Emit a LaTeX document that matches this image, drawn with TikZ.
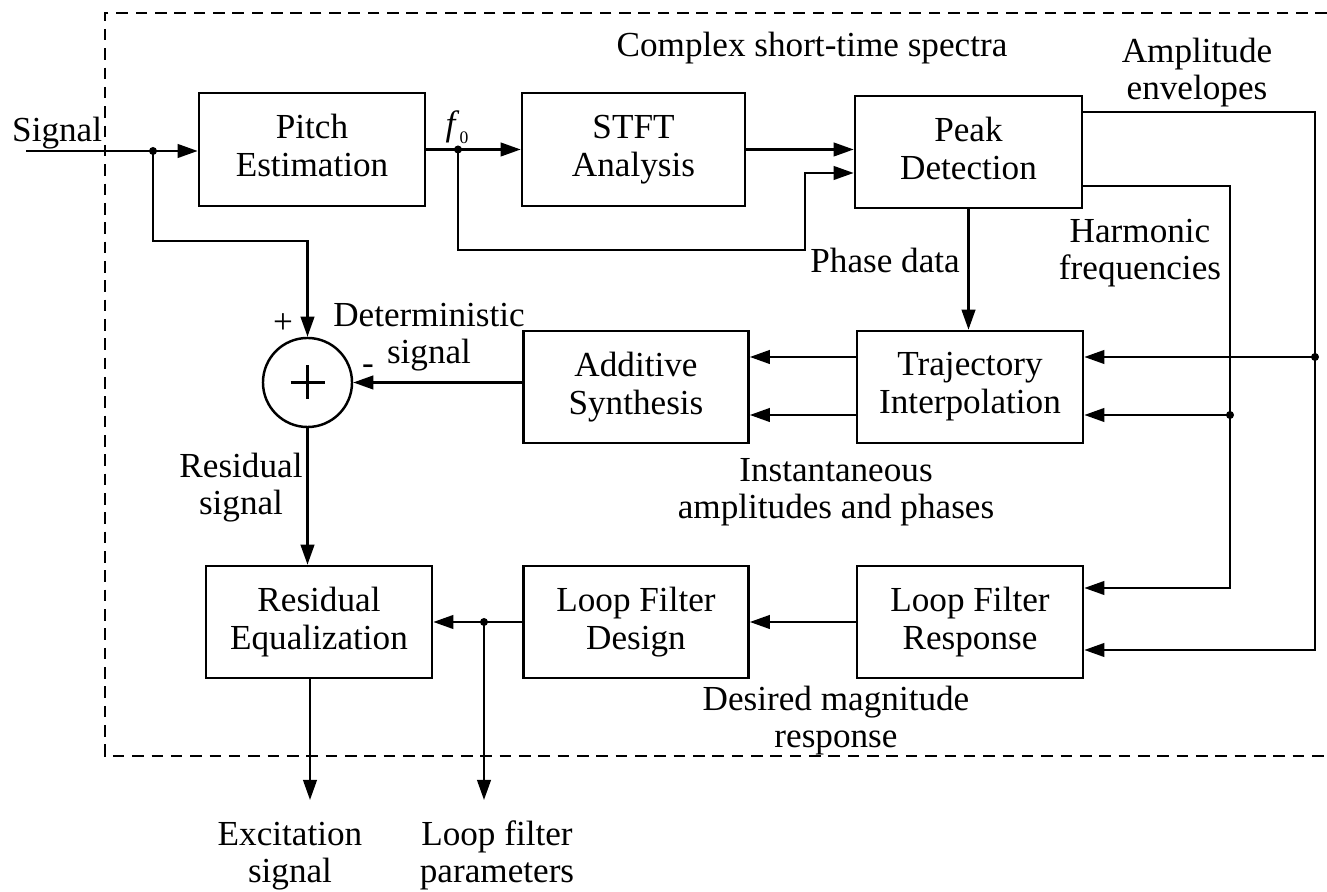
\documentclass[tikz,border=0pt]{standalone}
\usepackage{fontspec}
\setmainfont{Liberation Serif}
\usetikzlibrary{arrows.meta}
\begin{document}
\begin{tikzpicture}[x=0.01cm,y=-0.01cm,line width=0.7pt,
  font=\fontsize{10pt}{10.8pt}\selectfont,
  box/.style={draw,align=center,inner sep=0pt,minimum width=2.25cm,minimum height=1.12cm,
    execute at end node={\vphantom{y}}},
  lbl/.style={anchor=base,align=center,inner sep=0pt},
  arr/.style={-{Triangle[length=2mm,width=1.35mm]}},
  dot/.style={fill,circle,inner sep=0pt,minimum size=0.8mm},
  frame/.style={dash pattern=on 3.3pt off 2.2pt,line width=0.75pt}]
\useasboundingbox (0,0) rectangle (1327,892);

% frame
\draw[frame] (1327,13) -- (105,13) -- (105,756) -- (1327,756);

% blocks
\node[box,minimum width=2.26cm,minimum height=1.13cm] (pitch) at (312,149.5) {Pitch\\Estimation};
\node[box,minimum width=2.23cm,minimum height=1.13cm] (stft) at (633.5,149.5) {STFT\\Analysis};
\node[box,minimum width=2.27cm] (peak) at (968.5,152) {Peak\\Detection};
\node[box,minimum width=2.26cm] (traj) at (970,387) {Trajectory\\Interpolation};
\node[box] (add) at (636,387) {Additive\\Synthesis};
\node[box,minimum width=2.26cm] (resid) at (319,622) {Residual\\Equalization};
\node[box] (lfd) at (636,622) {Loop Filter\\Design};
\node[box,minimum width=2.26cm] (lfr) at (970,622) {Loop Filter\\Response};
\node[draw,circle,inner sep=0pt,minimum size=0.89cm] (sum) at (307.5,382.5) {};
\draw (sum.center) ++(-17,0) -- ++(34,0);
\draw (sum.center) ++(0,-17) -- ++(0,34);

% coordinates
\coordinate (in) at (26,151);
\coordinate (j1) at (153,151);
\coordinate (k1) at (153,241);
\coordinate (j2) at (458,149.5);
\coordinate (k2) at (458,250);
\coordinate (k3) at (805,173);
\coordinate (aR) at (1315,112);
\coordinate (aJ) at (1315,357);
\coordinate (aB) at (1315,650);
\coordinate (hR) at (1230,186);
\coordinate (hJ) at (1230,415);
\coordinate (hB) at (1230,588);
\coordinate (j3) at (484,622);
\coordinate (o1) at (310,800);
\coordinate (o2) at (484,800);

% connectors
\draw[arr] (in) -- (in -| pitch.west);
\draw[arr] (j1) -- (k1) -| (sum.north);
\draw[arr] (pitch.east) -- (stft.west);
\draw[arr] (j2) -- (k2) -| (k3) -- (k3 -| peak.west);
\draw[arr] (stft.east) -- (stft.east -| peak.west);
\draw[arr] (aR -| peak.east) -- (aR) -- (aB) -- (aB -| lfr.east);
\draw[arr] (aJ) -- (aJ -| traj.east);
\draw[arr] (hR -| peak.east) -- (hR) -- (hB) -- (hB -| lfr.east);
\draw[arr] (hJ) -- (hJ -| traj.east);
\draw[arr] (peak.south) -- (peak.south |- traj.north);
\draw[arr] (aJ -| traj.west) -- (aJ -| add.east);
\draw[arr] (hJ -| traj.west) -- (hJ -| add.east);
\draw[arr] (add.west |- sum) -- (sum.east);
\draw[arr] (sum.south) -- (sum.south |- resid.north);
\draw[arr] (lfr.west) -- (lfd.east);
\draw[arr] (lfd.west) -- (resid.east);
\draw[arr] (j3) -- (o2);
\draw[arr] (o1 |- resid.south) -- (o1);

% junction dots
\node[dot] (d1) at (j1) {};
\node[dot] (d2) at (j2) {};
\node[dot] (d3) at (aJ) {};
\node[dot] (d4) at (hJ) {};
\node[dot] (d5) at (j3) {};

% labels (anchor=base: baseline of the last line)
\node[lbl,anchor=base west] (lsig) at (11,142) {Signal};
\node[lbl] (lf0) at (457,136) {\textit{f}{\fontsize{5pt}{5pt}\selectfont\raisebox{-2pt}{0}}};
\node[lbl] (lcs) at (812,57) {Complex short-time spectra};
\node[lbl] (lamp) at (1197,100) {Amplitude\\envelopes};
\node[lbl,anchor=base east] (lph) at (961,273) {Phase data};
\node[lbl] (lharm) at (1140,280) {Harmonic\\frequencies};
\node[lbl] (ldet) at (429,364) {Deterministic\\signal};
\node[lbl] (lplus) at (283,334) {+};
\node[lbl] (lminus) at (368,375) {-};
\node[lbl] (lres) at (241,515) {Residual\\signal};
\node[lbl] (linst) at (836,519) {Instantaneous\\amplitudes and phases};
\node[lbl] (ldes) at (836,748) {Desired magnitude\\response};
\node[lbl] (lexc) at (290,883) {Excitation\\signal};
\node[lbl] (llfp) at (497,883) {Loop filter\\parameters};
\end{tikzpicture}
\end{document}
